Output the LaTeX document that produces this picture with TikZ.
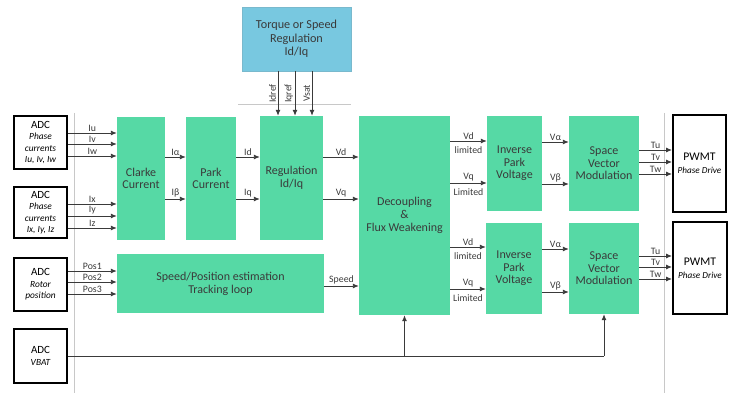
\documentclass[tikz,border=0pt]{standalone}
\usepackage{fontspec}
\setmainfont{Carlito}
\usetikzlibrary{arrows.meta,calc}
\definecolor{boxgreen}{HTML}{56D9A5}
\definecolor{boxblue}{HTML}{78C8E0}
\definecolor{txt}{HTML}{3A3A3A}
\definecolor{sep}{HTML}{C8C8C8}
\tikzset{
  gbox/.style={fill=boxgreen, text=txt, align=center, inner sep=0pt,
    font=\fontsize{12}{12.6}\selectfont},
  bbox/.style={fill=boxblue, draw=boxblue!80!gray, text=txt, align=center, inner sep=0pt,
    font=\fontsize{12.2}{13.3}\selectfont},
  adcbox/.style={draw=black, line width=1.6pt, fill=white, align=center, inner sep=0pt,
    font=\fontsize{11}{11.5}\selectfont},
  pwbox/.style={draw=black, line width=2pt, fill=white, align=center, inner sep=0pt,
    font=\fontsize{11.7}{13}\selectfont},
  arr/.style={draw=txt, line width=0.9pt, -{Latex[length=6pt,width=5pt]}},
  plain/.style={draw=txt, line width=0.9pt},
  lab/.style={font=\fontsize{9.8}{10}\selectfont, text=txt, inner sep=1pt, midway, above},
  labb/.style={font=\fontsize{9.8}{10}\selectfont, text=txt, inner sep=1pt, midway, below=4pt},
  vlab/.style={font=\fontsize{9.8}{10}\selectfont, text=txt, inner sep=1.5pt, midway, anchor=south, rotate=90},
  sepline/.style={draw=sep, line width=0.8pt},
}
\newcommand{\sm}[1]{{\fontsize{9.4}{11.5}\selectfont\itshape #1}}
\begin{document}
\begin{tikzpicture}[x=1pt,y=-1pt]
\useasboundingbox (0,0) rectangle (733,393);

% separator lines
\draw[sepline] (238,104) -- (351,104);
\draw[sepline] (74,113) -- (74,393);
\draw[sepline] (664,113) -- (664,393);

% blocks
\node[bbox, minimum width=109pt, minimum height=64pt] (top) at (296.5,39) {Torque or Speed\\Regulation\\Id/Iq};

\node[adcbox, minimum width=53pt, minimum height=53pt] (adc1) at (40.5,142.5) {ADC\\\sm{Phase}\\\sm{currents}\\\sm{Iu, Iv, Iw}};
\node[adcbox, minimum width=53pt, minimum height=51pt] (adc2) at (40.5,212.5) {ADC\\\sm{Phase}\\\sm{currents}\\\sm{Ix, Iy, Iz}};
\node[adcbox, minimum width=53pt, minimum height=53pt] (adc3) at (40.5,284.5) {ADC\\\sm{Rotor}\\\sm{position}};
\node[adcbox, minimum width=53pt, minimum height=54pt] (adc4) at (40.5,356) {ADC\\\sm{VBAT}};

\node[gbox, minimum width=48pt, minimum height=123pt] (clarke) at (141,178.5) {Clarke\\Current};
\node[gbox, minimum width=50pt, minimum height=123pt] (park) at (211,178.5) {Park\\Current};
\node[gbox, minimum width=63pt, minimum height=124pt] (reg) at (291.5,178) {Regulation\\Id/Iq};
\node[gbox, minimum width=91pt, minimum height=199pt, font=\fontsize{12}{13}\selectfont] (dec) at (404.5,215.5) {Decoupling\\\&\\Flux Weakening};
\node[gbox, minimum width=207pt, minimum height=59pt, font=\fontsize{12}{13}\selectfont] (spd) at (220.5,283.5) {Speed/Position estimation\\Tracking loop};

\node[gbox, minimum width=55pt, minimum height=95pt] (ip1) at (514.5,163.5) {Inverse\\Park\\Voltage};
\node[gbox, minimum width=70pt, minimum height=95pt] (svm1) at (604,163.5) {Space\\Vector\\Modulation};
\node[gbox, minimum width=56pt, minimum height=91pt] (ip2) at (514,268.5) {Inverse\\Park\\Voltage};
\node[gbox, minimum width=70pt, minimum height=91pt] (svm2) at (604,268.5) {Space\\Vector\\Modulation};

\node[pwbox, minimum width=53pt, minimum height=97pt] (pw1) at (699.5,163.5) {PWMT\\{\fontsize{9.2}{10}\selectfont\itshape Phase Drive}};
\node[pwbox, minimum width=54pt, minimum height=92pt] (pw2) at (700,268) {PWMT\\{\fontsize{9.2}{10}\selectfont\itshape Phase Drive}};

% references from top block
\draw[arr] (top.south -| 278,0) -- node[vlab]{Idref} (reg.north -| 278,0);
\draw[arr] (top.south -| 295,0) -- node[vlab]{Iqref} (reg.north -| 295,0);
\draw[arr] (top.south -| 312,0) -- node[vlab]{Vsat} (reg.north -| 312,0);

% ADC -> Clarke
\draw[arr] (adc1.east |- 0,133) -- node[lab]{Iu} (clarke.west |- 0,133);
\draw[arr] (adc1.east |- 0,144) -- node[lab]{Iv} (clarke.west |- 0,144);
\draw[arr] (adc1.east |- 0,156) -- node[lab]{Iw} (clarke.west |- 0,156);
\draw[arr] (adc2.east |- 0,204) -- node[lab]{Ix} (clarke.west |- 0,204);
\draw[arr] (adc2.east |- 0,216) -- node[lab]{Iy} (clarke.west |- 0,216);
\draw[arr] (adc2.east |- 0,228) -- node[lab]{Iz} (clarke.west |- 0,228);

% Clarke -> Park -> Reg -> Dec
\draw[arr] (clarke.east |- 0,157) -- node[lab]{Iα} (park.west |- 0,157);
\draw[arr] (clarke.east |- 0,199) -- node[lab]{Iβ} (park.west |- 0,199);
\draw[arr] (park.east |- 0,157) -- node[lab]{Id} (reg.west |- 0,157);
\draw[arr] (park.east |- 0,199) -- node[lab]{Iq} (reg.west |- 0,199);
\draw[arr] (reg.east |- 0,157) -- node[lab]{Vd} (dec.west |- 0,157);
\draw[arr] (reg.east |- 0,199) -- node[lab]{Vq} (dec.west |- 0,199);

% rotor position
\draw[arr] (adc3.east |- 0,271) -- node[lab]{Pos1} (spd.west |- 0,271);
\draw[arr] (adc3.east |- 0,282) -- node[lab]{Pos2} (spd.west |- 0,282);
\draw[arr] (adc3.east |- 0,294) -- node[lab]{Pos3} (spd.west |- 0,294);
\draw[arr] (spd.east |- 0,286) -- node[lab]{Speed} (dec.west |- 0,286);

% upper output chain
\draw[arr] (dec.east |- 0,141) -- node[lab]{Vd} node[labb]{limited} (ip1.west |- 0,141);
\draw[arr] (dec.east |- 0,183) -- node[lab]{Vq} node[labb]{Limited} (ip1.west |- 0,183);
\draw[arr] (ip1.east |- 0,142) -- node[lab]{Vα} (svm1.west |- 0,142);
\draw[arr] (ip1.east |- 0,184) -- node[lab]{Vβ} (svm1.west |- 0,184);
\draw[arr] (svm1.east |- 0,150) -- node[lab]{Tu} (pw1.west |- 0,150);
\draw[arr] (svm1.east |- 0,162) -- node[lab]{Tv} (pw1.west |- 0,162);
\draw[arr] (svm1.east |- 0,174) -- node[lab]{Tw} (pw1.west |- 0,174);

% lower output chain
\draw[arr] (dec.east |- 0,247) -- node[lab]{Vd} node[labb]{limited} (ip2.west |- 0,247);
\draw[arr] (dec.east |- 0,289) -- node[lab]{Vq} node[labb]{Limited} (ip2.west |- 0,289);
\draw[arr] (ip2.east |- 0,249) -- node[lab]{Vα} (svm2.west |- 0,249);
\draw[arr] (ip2.east |- 0,292) -- node[lab]{Vβ} (svm2.west |- 0,292);
\draw[arr] (svm2.east |- 0,256) -- node[lab]{Tu} (pw2.west |- 0,256);
\draw[arr] (svm2.east |- 0,267) -- node[lab]{Tv} (pw2.west |- 0,267);
\draw[arr] (svm2.east |- 0,279) -- node[lab]{Tw} (pw2.west |- 0,279);

% VBAT
\coordinate (vend) at (svm2.south |- adc4.east);
\draw[plain] (adc4.east) -- (vend);
\draw[arr] (dec.south |- adc4.east) -- (dec.south);
\draw[arr] (vend) -- (svm2.south);
\end{tikzpicture}
\end{document}
